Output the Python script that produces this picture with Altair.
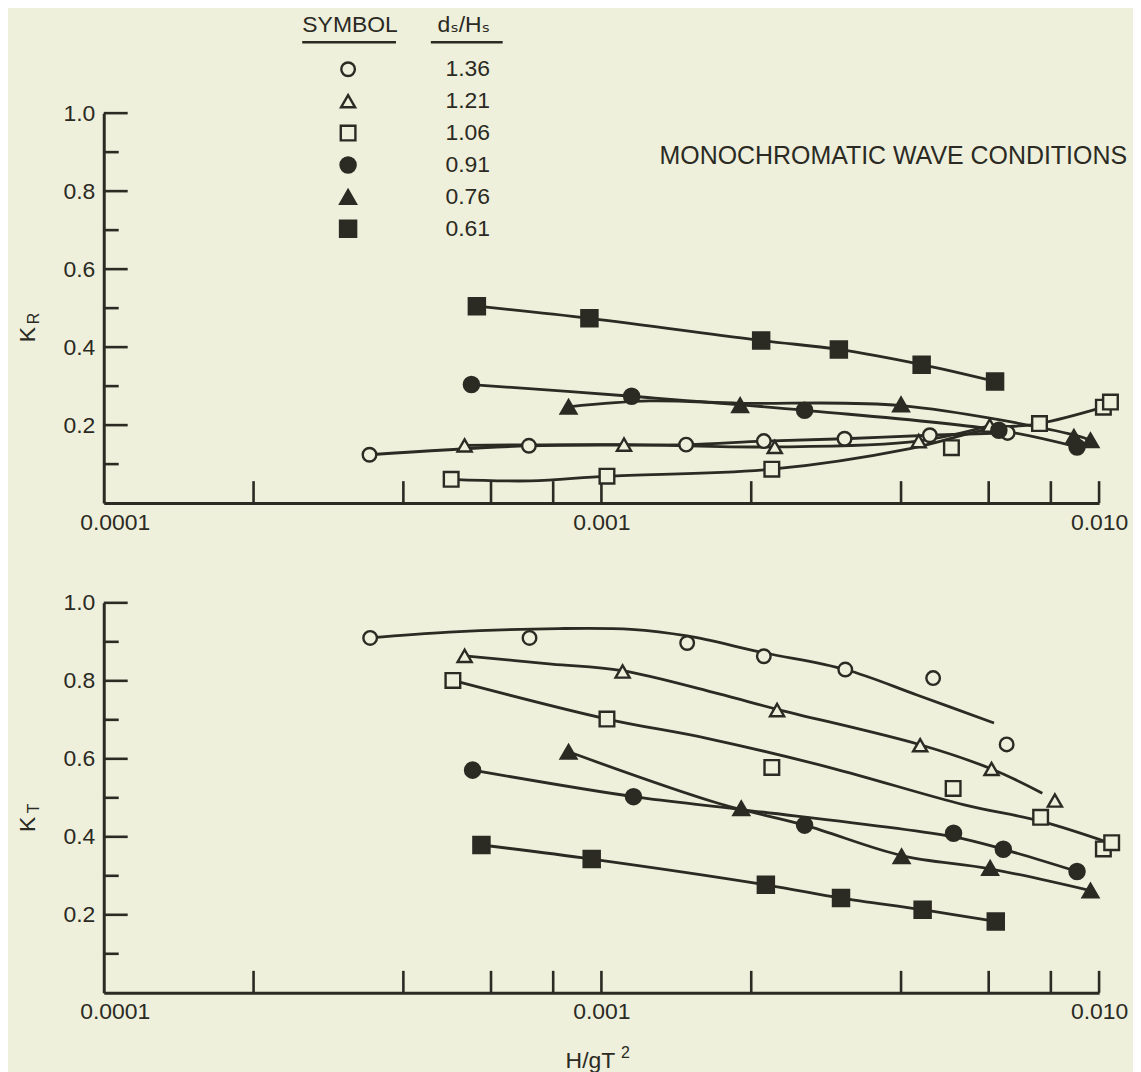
import altair as alt
import pandas as pd

INK = "#2b2a23"
BG = "#eef0dc"
FONT = "Liberation Sans"
FS = 23

SERIES = ["1.36", "1.21", "1.06", "0.91", "0.76", "0.61"]
SHAPES = ["circle", "triangle-up", "square", "circle", "triangle-up", "square"]
FILLS = [BG, BG, BG, INK, INK, INK]
SIZES = [185, 260, 225, 240, 330, 270]

X_LABEL_VALUES = [0.0001, 0.001, 0.01]
X_LABEL_TEXT = ["0.0001", "0.001", "0.010"]
X_TICKS = [0.0002, 0.0004, 0.0006, 0.0008, 0.001, 0.002, 0.004, 0.006, 0.008, 0.01]
Y_LABELS = [0.2, 0.4, 0.6, 0.8, 1.0]
Y_MINOR = [0.1, 0.3, 0.5, 0.7, 0.9]

# ---- K_R (top panel) measured points ----
KR_X_136 = [0.000342, 0.000715, 0.00148, 0.00212, 0.00308, 0.00457, 0.00655]
KR_Y_136 = [0.124, 0.147, 0.150, 0.159, 0.165, 0.174, 0.180]
KR_X_121 = [0.000531, 0.00111, 0.00223, 0.00434, 0.00603]
KR_Y_121 = [0.148, 0.150, 0.144, 0.159, 0.199]
KR_X_106 = [0.000499, 0.001026, 0.0022, 0.00505, 0.00759, 0.0102, 0.01054]
KR_Y_106 = [0.061, 0.069, 0.087, 0.142, 0.204, 0.246, 0.259]
KR_X_091 = [0.000548, 0.00115, 0.00256, 0.00629, 0.00903]
KR_Y_091 = [0.304, 0.274, 0.238, 0.187, 0.144]
KR_X_076 = [0.000859, 0.0019, 0.0040, 0.0089, 0.00961]
KR_Y_076 = [0.247, 0.251, 0.253, 0.170, 0.161]
KR_X_061 = [0.000562, 0.000946, 0.002094, 0.0030, 0.0044, 0.00618]
KR_Y_061 = [0.505, 0.474, 0.417, 0.394, 0.355, 0.312]

# ---- K_R fitted curves ----
KRC_X_136 = KR_X_136
KRC_Y_136 = KR_Y_136
KRC_X_121 = KR_X_121
KRC_Y_121 = KR_Y_121
KRC_X_106 = [0.000499, 0.00072, 0.001026, 0.0022, 0.00417, 0.0060, 0.00759, 0.0102]
KRC_Y_106 = [0.061, 0.057, 0.069, 0.087, 0.140, 0.190, 0.204, 0.246]
KRC_X_091 = KR_X_091
KRC_Y_091 = KR_Y_091
KRC_X_076 = [0.000859, 0.00125, 0.0019, 0.0040, 0.0089, 0.00961]
KRC_Y_076 = [0.247, 0.262, 0.256, 0.250, 0.175, 0.161]
KRC_X_061 = KR_X_061
KRC_Y_061 = KR_Y_061

# ---- K_T (bottom panel) measured points ----
KT_X_136 = [0.000343, 0.000717, 0.001487, 0.00212, 0.00309, 0.00464, 0.00652]
KT_Y_136 = [0.910, 0.910, 0.897, 0.863, 0.829, 0.807, 0.637]
KT_X_121 = [0.000531, 0.001103, 0.002254, 0.00437, 0.00608, 0.00815]
KT_Y_121 = [0.864, 0.824, 0.725, 0.635, 0.574, 0.493]
KT_X_106 = [0.000503, 0.001026, 0.0022, 0.00509, 0.00763, 0.0102, 0.0106]
KT_Y_106 = [0.801, 0.702, 0.578, 0.524, 0.450, 0.369, 0.385]
KT_X_091 = [0.000551, 0.00116, 0.00256, 0.00510, 0.00642, 0.00903]
KT_Y_091 = [0.571, 0.503, 0.430, 0.409, 0.368, 0.311]
KT_X_076 = [0.000859, 0.00191, 0.00401, 0.00604, 0.00961]
KT_Y_076 = [0.618, 0.473, 0.350, 0.320, 0.262]
KT_X_061 = [0.000574, 0.000956, 0.00214, 0.00303, 0.00442, 0.00620]
KT_Y_061 = [0.379, 0.343, 0.277, 0.243, 0.213, 0.183]

# ---- K_T fitted curves ----
KTC_X_136 = [0.000343, 0.000494, 0.00082, 0.001148, 0.001487, 0.00212, 0.00309, 0.00432, 0.00615]
KTC_Y_136 = [0.910, 0.925, 0.934, 0.932, 0.915, 0.872, 0.829, 0.763, 0.692]
KTC_X_121 = [0.000531, 0.000794, 0.00110, 0.001716, 0.002253, 0.00437, 0.00608, 0.00769]
KTC_Y_121 = [0.864, 0.843, 0.826, 0.767, 0.727, 0.636, 0.574, 0.512]
KTC_X_106 = [0.000503, 0.001026, 0.001638, 0.00289, 0.00536, 0.00763, 0.0105]
KTC_Y_106 = [0.801, 0.702, 0.652, 0.577, 0.482, 0.440, 0.384]
KTC_X_091 = [0.000551, 0.00116, 0.00191, 0.0051, 0.00642, 0.00903]
KTC_Y_091 = [0.571, 0.503, 0.470, 0.400, 0.368, 0.311]
KTC_X_076 = [0.000859, 0.001716, 0.00256, 0.00401, 0.00604, 0.00961]
KTC_Y_076 = [0.618, 0.486, 0.430, 0.352, 0.318, 0.262]
KTC_X_061 = KT_X_061
KTC_Y_061 = KT_Y_061

W, H = 998, 391


def frame(groups):
    rows = []
    for s, xs, ys in groups:
        for i, (a, b) in enumerate(zip(xs, ys)):
            rows.append({"series": s, "x": a, "y": b, "i": i})
    return pd.DataFrame(rows)


kr_pts = frame([("1.36", KR_X_136, KR_Y_136), ("1.21", KR_X_121, KR_Y_121),
                ("1.06", KR_X_106, KR_Y_106), ("0.91", KR_X_091, KR_Y_091),
                ("0.76", KR_X_076, KR_Y_076), ("0.61", KR_X_061, KR_Y_061)])
kr_crv = frame([("1.36", KRC_X_136, KRC_Y_136), ("1.21", KRC_X_121, KRC_Y_121),
                ("1.06", KRC_X_106, KRC_Y_106), ("0.91", KRC_X_091, KRC_Y_091),
                ("0.76", KRC_X_076, KRC_Y_076), ("0.61", KRC_X_061, KRC_Y_061)])
kt_pts = frame([("1.36", KT_X_136, KT_Y_136), ("1.21", KT_X_121, KT_Y_121),
                ("1.06", KT_X_106, KT_Y_106), ("0.91", KT_X_091, KT_Y_091),
                ("0.76", KT_X_076, KT_Y_076), ("0.61", KT_X_061, KT_Y_061)])
kt_crv = frame([("1.36", KTC_X_136, KTC_Y_136), ("1.21", KTC_X_121, KTC_Y_121),
                ("1.06", KTC_X_106, KTC_Y_106), ("0.91", KTC_X_091, KTC_Y_091),
                ("0.76", KTC_X_076, KTC_Y_076), ("0.61", KTC_X_061, KTC_Y_061)])

label_expr = " : ".join(
    f"datum.value < {v * 3:.6f} ? '{t}'" for v, t in zip(X_LABEL_VALUES[:-1], X_LABEL_TEXT[:-1])
) + f" : '{X_LABEL_TEXT[-1]}'"

X = alt.X("x:Q", title=None,
          scale=alt.Scale(type="log", domain=[0.0001, 0.01], nice=False),
          axis=alt.Axis(values=X_LABEL_VALUES, labelExpr=label_expr, ticks=False, grid=False,
                        domain=True, domainColor=INK, domainWidth=3, labelPadding=8,
                        labelOffset={"condition": {"test": "datum.value < 0.0002", "value": 11},
                                     "value": 0},
                        labelFont=FONT, labelFontSize=FS, labelColor=INK, labelFlush=False))
Y = alt.Y("y:Q", title=None,
          scale=alt.Scale(domain=[0, 1], nice=False, zero=True),
          axis=alt.Axis(values=Y_LABELS, format=".1f", ticks=False, grid=False, domain=True,
                        domainColor=INK, domainWidth=3, labelPadding=9, labelFont=FONT,
                        labelFontSize=FS, labelColor=INK))

SHAPE = alt.Shape("series:N", scale=alt.Scale(domain=SERIES, range=SHAPES), legend=None)
FILL = alt.Fill("series:N", scale=alt.Scale(domain=SERIES, range=FILLS), legend=None)
SIZE = alt.Size("series:N", scale=alt.Scale(domain=SERIES, range=SIZES), legend=None)


def text_mark(txt, x, y, size=FS, angle=0, align="center", font=FONT):
    return alt.Chart(pd.DataFrame({"t": [txt]})).mark_text(
        font=font, fontSize=size, color=INK, angle=angle, align=align, baseline="middle"
    ).encode(text="t:N", x=alt.value(x), y=alt.value(y))


def panel(pts, crv, sub):
    lines = alt.Chart(crv).mark_line(color=INK, strokeWidth=2.8, interpolate="catmull-rom").encode(
        x=X, y=Y, detail="series:N", order="i:Q")
    marks = alt.Chart(pts).mark_point(filled=True, stroke=INK, strokeWidth=2.4, opacity=1).encode(
        x=X, y=Y, shape=SHAPE, fill=FILL, size=SIZE)
    ymaj = alt.Chart(pd.DataFrame({"y": Y_LABELS})).mark_rule(color=INK, strokeWidth=2.6).encode(
        y=Y, x=alt.value(0), x2=alt.value(24))
    ymin = alt.Chart(pd.DataFrame({"y": Y_MINOR})).mark_rule(color=INK, strokeWidth=2.6).encode(
        y=Y, x=alt.value(0), x2=alt.value(15))
    xt = alt.Chart(pd.DataFrame({"x": X_TICKS})).mark_rule(color=INK, strokeWidth=2.6).encode(
        x=X, y=alt.value(H), y2=alt.value(H - 22))
    kt = text_mark("K", -76, 222, 23, 270)
    ks = text_mark(sub, -70, 206, 16, 270)
    return [ymaj, ymin, xt, lines, marks, kt, ks]


# legend built from the series list
leg = pd.DataFrame({"series": SERIES, "row": list(range(len(SERIES)))})
leg["lx"] = 245
leg["ly"] = -44 + 32 * leg["row"]
leg["tx"] = 365
leg_pts = alt.Chart(leg).mark_point(filled=True, stroke=INK, strokeWidth=2.4, opacity=1).encode(
    x=alt.X("lx:Q", scale=None), y=alt.Y("ly:Q", scale=None), shape=SHAPE, fill=FILL, size=SIZE)
leg_txt = alt.Chart(leg).mark_text(font=FONT, fontSize=FS, color=INK, align="center",
                                   baseline="middle").encode(
    x=alt.X("tx:Q", scale=None), y=alt.Y("ly:Q", scale=None), text="series:N")
hdr1 = text_mark("SYMBOL", 247, -88)
hdr2 = text_mark("d\u209b/H\u209b", 361, -88, FS, 0, "center", "Liberation Sans, DejaVu Sans")
ul1 = alt.Chart(pd.DataFrame({"a": [0]})).mark_rule(color=INK, strokeWidth=2.5).encode(
    x=alt.value(199), x2=alt.value(293), y=alt.value(-71))
ul2 = alt.Chart(pd.DataFrame({"a": [0]})).mark_rule(color=INK, strokeWidth=2.5).encode(
    x=alt.value(328), x2=alt.value(400), y=alt.value(-71))
mono = text_mark("MONOCHROMATIC WAVE CONDITIONS", 1026, 43, 25, 0, "right")

top = alt.layer(*panel(kr_pts, kr_crv, "R"), leg_pts, leg_txt, hdr1, hdr2, ul1, ul2, mono
                ).properties(width=W, height=H)

xtitle = text_mark("H/gT", 488, 459, FS)
xsup = text_mark("2", 523, 451, 16)
bottom = alt.layer(*panel(kt_pts, kt_crv, "T"), xtitle, xsup).properties(width=W, height=H)

chart = alt.vconcat(top, bottom, spacing=58).properties(
    padding={"left": 9, "top": 5, "right": 5, "bottom": 2},
    background=BG,
).configure_view(stroke=None)

chart.save("out.html", embed_options={"renderer": "svg", "actions": False})
